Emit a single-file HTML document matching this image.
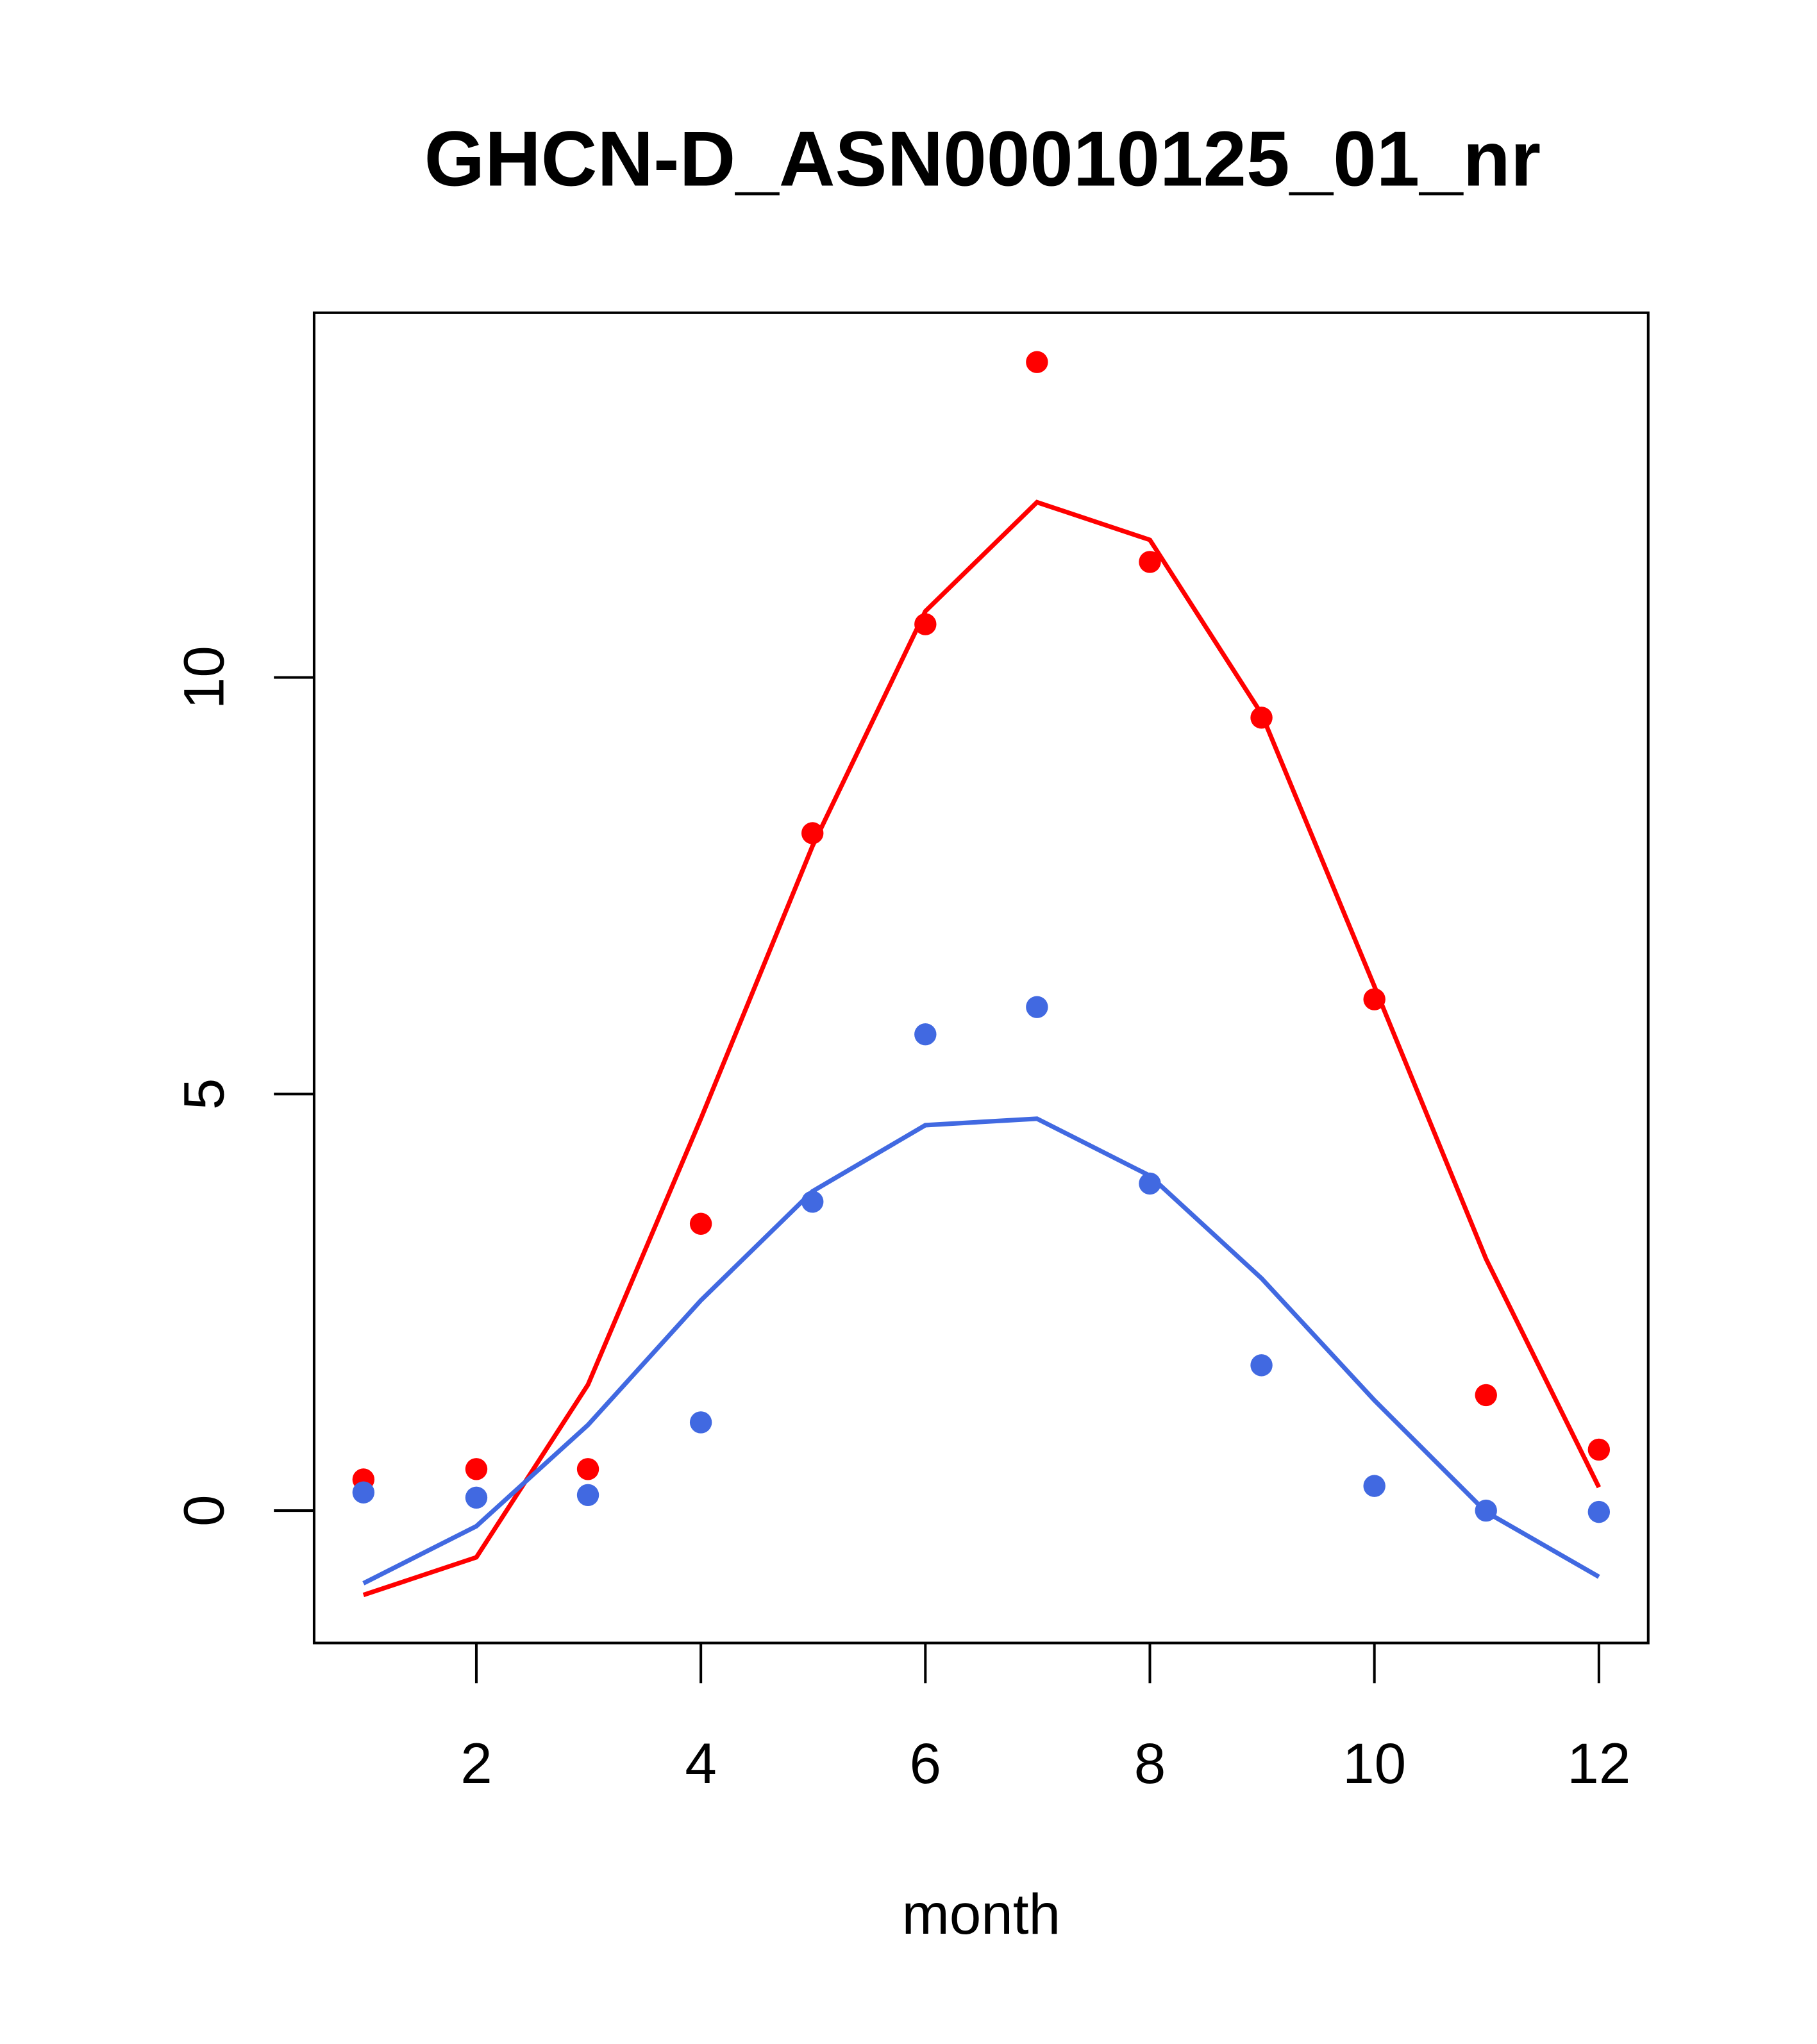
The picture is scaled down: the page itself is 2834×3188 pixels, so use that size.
<!DOCTYPE html>
<html><head><meta charset="utf-8"><style>html,body{margin:0;padding:0;background:#fff}svg{display:block}</style></head>
<body>
<svg width="2834" height="3188" viewBox="0 0 1400 1575" xmlns="http://www.w3.org/2000/svg" font-family="Liberation Sans, sans-serif">
<rect width="1400" height="1575" fill="#fff"/>
<text x="757" y="143" font-size="60" font-weight="bold" text-anchor="middle">GHCN-D_ASN00010125_01_nr</text>
<rect x="242" y="241" width="1028" height="1025" fill="none" stroke="#000" stroke-width="2"/>
<g stroke="#000" stroke-width="2">
<line x1="242" y1="1164" x2="211" y2="1164"/><line x1="242" y1="843" x2="211" y2="843"/><line x1="242" y1="522" x2="211" y2="522"/>
<line x1="367" y1="1266" x2="367" y2="1297"/><line x1="540" y1="1266" x2="540" y2="1297"/><line x1="713" y1="1266" x2="713" y2="1297"/><line x1="886" y1="1266" x2="886" y2="1297"/><line x1="1059" y1="1266" x2="1059" y2="1297"/><line x1="1232" y1="1266" x2="1232" y2="1297"/>
</g>
<g font-size="44" text-anchor="middle">
<text x="367" y="1374">2</text><text x="540" y="1374">4</text><text x="713" y="1374">6</text><text x="886" y="1374">8</text><text x="1059" y="1374">10</text><text x="1232" y="1374">12</text>
<text transform="translate(172,1164) rotate(-90)">0</text>
<text transform="translate(172,843) rotate(-90)">5</text>
<text transform="translate(172,522) rotate(-90)">10</text>
<text x="756" y="1490">month</text>
</g>
<polyline fill="none" stroke="#ff0000" stroke-width="3.5" points="280,1229 367,1200 453,1067 540,862 626,652 713,471 799,387 886,416 972,550 1059,760 1145,970 1232,1146"/>
<polyline fill="none" stroke="#4169e1" stroke-width="3.5" points="280,1220 367,1176 453,1098 540,1002 626,918 713,867 799,862 886,906 972,985 1059,1079 1145,1165 1232,1215"/>
<g fill="#ff0000">
<circle cx="280" cy="1140" r="8.5"/><circle cx="367" cy="1132" r="8.5"/><circle cx="453" cy="1132" r="8.5"/><circle cx="540" cy="943" r="8.5"/><circle cx="626" cy="642" r="8.5"/><circle cx="713" cy="481" r="8.5"/><circle cx="799" cy="279" r="8.5"/><circle cx="886" cy="433" r="8.5"/><circle cx="972" cy="553" r="8.5"/><circle cx="1059" cy="770" r="8.5"/><circle cx="1145" cy="1075" r="8.5"/><circle cx="1232" cy="1117" r="8.5"/>
</g>
<g fill="#4169e1">
<circle cx="280" cy="1150" r="8.5"/><circle cx="367" cy="1154" r="8.5"/><circle cx="453" cy="1152" r="8.5"/><circle cx="540" cy="1096" r="8.5"/><circle cx="626" cy="926" r="8.5"/><circle cx="713" cy="797" r="8.5"/><circle cx="799" cy="776" r="8.5"/><circle cx="886" cy="912" r="8.5"/><circle cx="972" cy="1052" r="8.5"/><circle cx="1059" cy="1145" r="8.5"/><circle cx="1145" cy="1164" r="8.5"/><circle cx="1232" cy="1165" r="8.5"/>
</g>
</svg>
</body></html>
